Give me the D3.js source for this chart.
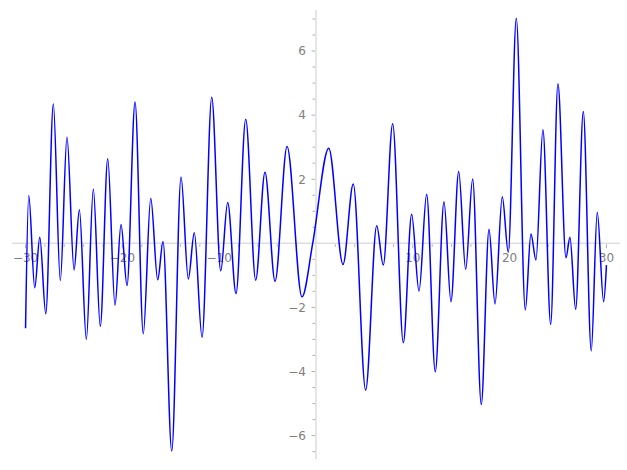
<!DOCTYPE html>
<html>
<head>
<meta charset="utf-8">
<script src="https://cdn.jsdelivr.net/npm/d3@7"></script>
<style>
html,body{margin:0;padding:0;background:#fff;}
svg{display:block;}
</style>
</head>
<body>
<svg id="chart" width="627" height="470"></svg>
<script>
// Curve knots (extrema and a few intermediate points)
const xKnots = [-30, -29.67, -29.05, -28.53, -27.91, -27.13, -26.41, -25.72, -24.99, -24.44,
  -23.72, -23.00, -22.28, -21.51, -20.76, -20.14, -19.52, -18.69, -17.84, -17.07,
  -16.35, -15.80, -14.90, -13.94, -13.19, -12.57, -11.77, -10.77, -9.84, -9.12,
  -8.26, -7.26, -6.23, -5.27, -4.23, -2.99, -1.45, -0.34, 1.32, 2.79,
  3.85, 5.13, 6.27, 6.95, 7.92, 9.02, 9.88, 10.64, 11.43, 12.32,
  13.22, 13.94, 14.74, 15.46, 16.18, 17.07, 17.87, 18.49, 19.24, 19.86,
  20.69, 21.62, 22.20, 22.72, 23.44, 24.24, 24.99, 25.82, 26.23, 26.82,
  27.61, 28.43, 29.05, 29.71, 30];
const yKnots = [-2.65, 1.49, -1.39, 0.19, -2.20, 4.35, -1.16, 3.31, -0.83, 1.05,
  -2.99, 1.69, -2.59, 2.64, -1.93, 0.59, -1.32, 4.41, -2.82, 1.41,
  -1.14, 0.06, -6.48, 2.07, -1.11, 0.33, -2.93, 4.56, -0.86, 1.27,
  -1.57, 3.87, -1.15, 2.22, -1.18, 3.02, -1.67, 0, 2.97, -0.66,
  1.85, -4.58, 0.55, -0.68, 3.73, -3.10, 0.91, -1.49, 1.53, -4.01,
  1.30, -1.82, 2.24, -0.81, 2.01, -5.03, 0.44, -1.89, 1.45, -0.28,
  7.02, -2.08, 0.29, -0.52, 3.54, -2.53, 4.98, -0.45, 0.19, -2.06,
  4.11, -3.36, 0.97, -1.82, -0.68];

const xMajorTicks = [-30, -20, -10, 10, 20, 30];
const xTickLabels = ["\u221230", "\u221220", "\u221210", "10", "20", "30"];
const yMajorTicks = [-6, -4, -2, 2, 4, 6];
const yTickLabels = ["\u22126", "\u22124", "\u22122", "2", "4", "6"];

const svg = d3.select("#chart");
const x = d3.scaleLinear().domain([-31.4, 31.4]).range([12, 620]);
const y = d3.scaleLinear().domain([-6.73, 7.28]).range([459, 10]);

const axisColor = "#dddddd";
const tickColor = "#9a9a9a";
const labelColor = "#808080";
const font = "DejaVu Sans, sans-serif";

// axis lines
svg.append("line").attr("x1", x(-31.4)).attr("x2", x(31.4))
  .attr("y1", y(0)).attr("y2", y(0))
  .attr("stroke", axisColor).attr("stroke-width", 1.5);
svg.append("line").attr("x1", x(0)).attr("x2", x(0))
  .attr("y1", y(7.28)).attr("y2", y(-6.73))
  .attr("stroke", axisColor).attr("stroke-width", 1.5);

// x ticks
const xMinor = d3.range(-30, 31, 2).filter(v => v % 10 !== 0);
svg.append("g").selectAll("line").data(xMinor).join("line")
  .attr("x1", d => x(d)).attr("x2", d => x(d))
  .attr("y1", y(0) + 1).attr("y2", y(0) + 3.5)
  .attr("stroke", tickColor).attr("stroke-width", 0.8);
svg.append("g").selectAll("line").data(xMajorTicks).join("line")
  .attr("x1", d => x(d)).attr("x2", d => x(d))
  .attr("y1", y(0) + 1).attr("y2", y(0) + 5)
  .attr("stroke", tickColor).attr("stroke-width", 0.8);
svg.append("g").selectAll("text").data(xMajorTicks).join("text")
  .attr("x", d => x(d)).attr("y", y(0) + 19)
  .attr("text-anchor", "middle")
  .attr("font-family", font).attr("font-size", 12)
  .attr("fill", labelColor)
  .text((d, i) => xTickLabels[i]);

// y ticks
const yMinor = d3.range(-13, 15).map(v => v / 2).filter(v => v % 2 !== 0);
svg.append("g").selectAll("line").data(yMinor).join("line")
  .attr("x1", x(0) - 1).attr("x2", x(0) - 3.5)
  .attr("y1", d => y(d)).attr("y2", d => y(d))
  .attr("stroke", tickColor).attr("stroke-width", 0.8);
svg.append("g").selectAll("line").data(yMajorTicks).join("line")
  .attr("x1", x(0) - 1).attr("x2", x(0) - 4.5)
  .attr("y1", d => y(d)).attr("y2", d => y(d))
  .attr("stroke", tickColor).attr("stroke-width", 0.8);
svg.append("g").selectAll("text").data(yMajorTicks).join("text")
  .attr("x", x(0) - 10).attr("y", d => y(d))
  .attr("dy", "0.36em")
  .attr("text-anchor", "end")
  .attr("font-family", font).attr("font-size", 12)
  .attr("fill", labelColor)
  .text((d, i) => yTickLabels[i]);

// curve
const pts = xKnots.map((v, i) => [v, yKnots[i]]);
const line = d3.line().x(d => x(d[0])).y(d => y(d[1])).curve(d3.curveMonotoneX);
svg.append("path").datum(pts)
  .attr("d", line)
  .attr("fill", "none")
  .attr("stroke", "#0000ff")
  .attr("stroke-width", 1.5);
</script>
</body>
</html>
